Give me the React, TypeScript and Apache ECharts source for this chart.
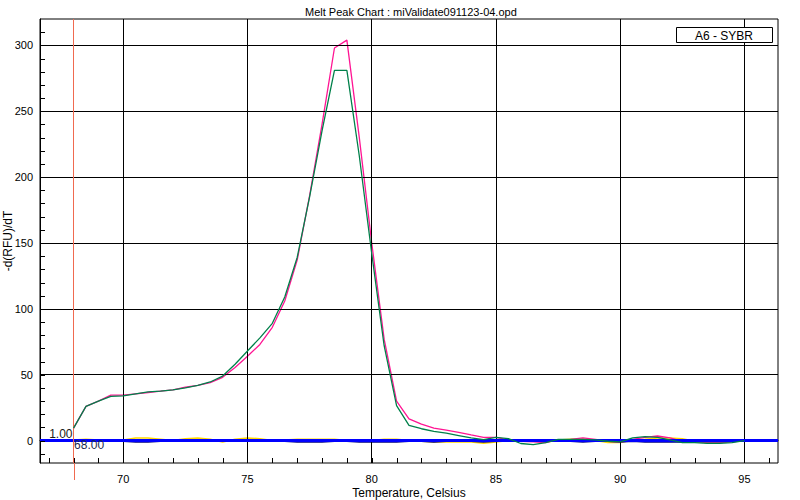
import React, { useEffect, useRef } from "react";
import * as echarts from "echarts";

const TITLE = "Melt Peak Chart : miValidate091123-04.opd";
const X_NAME = "Temperature, Celsius";
const Y_NAME = "-d(RFU)/dT";
const LEGEND_LABEL = "A6 - SYBR";

const temps = [
  68, 68.5, 69, 69.5, 70, 70.5, 71, 71.5, 72, 72.5, 73, 73.5, 74, 74.5, 75, 75.5,
  76, 76.5, 77, 77.5, 78, 78.5, 79, 79.5, 80, 80.5, 81, 81.5, 82, 82.5, 83, 83.5,
  84, 84.5, 85, 85.5, 86, 86.5, 87, 87.5, 88, 88.5, 89, 89.5, 90, 90.5, 91, 91.5,
  92, 92.5, 93, 93.5, 94, 94.5, 95,
];

const pinkValues = [
  9.5, 26, 30, 34.5, 34.5, 35.5, 36.5, 37.5, 38.5, 40.5, 42, 44, 48, 55.5, 64, 73,
  86, 106, 137, 186, 240, 298, 304, 230, 150, 77, 30, 16.5, 12.5, 9.5, 8, 6.3,
  4.3, 2.5, 2.5, 0.5, -0.5, -1, -1.5, 0.5, 1, 2, 1, -0.5, -1, 1, 2.5, 3.5,
  2, -0.5, -1, -1.5, -1.5, -1, 0,
];

const greenValues = [
  9.5, 26, 30, 33.5, 34, 35.5, 37, 37.5, 38.5, 40, 42, 44.5, 49, 58, 68, 78,
  89, 109, 139, 185, 235, 281, 281, 216, 142, 72, 26.5, 11.5, 9, 7, 5.6, 3.8,
  2, 0.8, 2.5, 1.5, -2.2, -3, -1.5, 1, 1, 1, 0.5, -0.5, -1, 2, 3, 2.5,
  0.5, -1.5, -1.5, -2, -2, -1.5, 0,
];

const yellowValues = [
  0.5, 1, 0.5, 0, 0.5, 2, 2, 1, 0, 1.5, 2, 1, -1, 1, 2, 1.5,
  0, 0.5, 1, 1, 1, 1, 0, -0.5, 0, 1, 1, 0, -0.5, -1, -1, -1,
  -1, -2, -1, 0, 0.5, 0, 0, 0.5, 1, 1, 0, -1.5, -1.5, 0.5, 1, 2,
  2, 1.5, -0.5, -1, -1, -0.5, 0,
];

const navyValues = [
  0, -0.5, -0.5, -0.5, -0.5, -1, -1, -0.5, -0.5, -0.5, -0.5, -0.5, -0.5, -0.5, -0.5, -0.5,
  -0.5, -0.5, -1, -1, -1, -0.5, -0.5, -1, -1, -1, -1, -0.5, -0.5, -1, -0.5, -0.5,
  -0.5, -1, -0.5, -0.5, -0.5, -0.5, -0.5, -0.5, -0.5, -1, -0.5, -0.5, -1, -0.5, -1, -1,
  -1, -1, -0.5, -0.5, -0.5, -0.5, 0,
];

const xMajorTicks = [70, 75, 80, 85, 90, 95];
const xMinorTicks = [
  67, 68, 69, 70, 71, 72, 73, 74, 75, 76, 77, 78, 79, 80, 81, 82, 83, 84, 85, 86,
  87, 88, 89, 90, 91, 92, 93, 94, 95, 96,
];
const yMajorTicks = [0, 50, 100, 150, 200, 250, 300];
const yMinorTicks = [
  -10, 0, 10, 20, 30, 40, 50, 60, 70, 80, 90, 100, 110, 120, 130, 140, 150, 160,
  170, 180, 190, 200, 210, 220, 230, 240, 250, 260, 270, 280, 290, 300, 310,
];

const X_MIN = 66.65;
const X_MAX = 96.35;
const Y_MIN = -17;
const Y_MAX = 320;

const CURSOR_TEMP = 68;
const CURSOR_VALUE_LABEL = "1.00";
const CURSOR_TEMP_LABEL = "68.00";

const FONT = "'Liberation Sans', Arial, sans-serif";
const TICK_LEN = 5;

export default function App() {
  const ref = useRef<HTMLDivElement>(null);

  useEffect(() => {
    if (!ref.current) return;
    const chart = echarts.init(ref.current, null, { renderer: "svg" });
    const pair = (vals: number[]) => temps.map((t, i) => [t, vals[i]]);
    const crisp = (v: number) => Math.round(v) + 0.5;

    const option: any = {
      animation: false,
      backgroundColor: "#ffffff",
      textStyle: { fontFamily: FONT },
      title: {
        text: TITLE,
        left: 300,
        top: 1,
        textStyle: { fontSize: 11, fontWeight: "normal", color: "#000", fontFamily: FONT },
      },
      grid: {
        left: 40,
        right: 22,
        top: 19,
        bottom: 37,
        containLabel: false,
        outerBoundsMode: "none",
        show: true,
        borderColor: "#000",
        borderWidth: 1,
        backgroundColor: "transparent",
      },
      xAxis: {
        type: "value",
        min: X_MIN,
        max: X_MAX,
        name: X_NAME,
        nameLocation: "middle",
        nameGap: 24,
        nameMoveOverlap: false,
        nameTextStyle: { fontSize: 12, color: "#000", fontFamily: FONT },
        axisLine: { show: true, lineStyle: { color: "#000", width: 1 } },
        axisTick: { show: false },
        axisLabel: {
          customValues: xMajorTicks,
          fontSize: 11,
          color: "#000",
          margin: 10,
          fontFamily: FONT,
        },
        splitLine: { show: false },
      },
      yAxis: {
        type: "value",
        min: Y_MIN,
        max: Y_MAX,
        name: Y_NAME,
        nameLocation: "middle",
        nameGap: 26,
        nameMoveOverlap: false,
        nameTextStyle: { fontSize: 12, color: "#000", fontFamily: FONT },
        axisLine: { show: true, lineStyle: { color: "#000", width: 1 } },
        axisTick: { show: false },
        axisLabel: {
          customValues: yMajorTicks,
          fontSize: 11,
          color: "#000",
          margin: 7,
          fontFamily: FONT,
        },
        splitLine: { show: false },
      },
      series: [
        {
          name: "gridlines",
          type: "line",
          data: [],
          silent: true,
          z: 1,
          markLine: {
            silent: true,
            symbol: "none",
            label: { show: false },
            emphasis: { disabled: true },
            lineStyle: { color: "#000", width: 1, type: "solid" },
            data: [
              ...xMajorTicks.map((v) => ({ xAxis: v })),
              ...yMajorTicks.filter((v) => v !== 0).map((v) => ({ yAxis: v })),
            ],
          },
        },
        {
          name: "yellow",
          type: "line",
          data: pair(yellowValues),
          showSymbol: false,
          silent: true,
          z: 2,
          lineStyle: { color: "#ffd700", width: 1.5 },
        },
        {
          name: "navy",
          type: "line",
          data: pair(navyValues),
          showSymbol: false,
          silent: true,
          z: 2,
          lineStyle: { color: "#000080", width: 1.5 },
        },
        {
          name: "baseline",
          type: "line",
          data: [],
          silent: true,
          z: 3,
          markLine: {
            silent: true,
            symbol: "none",
            label: { show: false },
            emphasis: { disabled: true },
            data: [
              { yAxis: 0, lineStyle: { color: "#0000ff", width: 3, type: "solid" } },
              { xAxis: CURSOR_TEMP, lineStyle: { color: "#f06a50", width: 1, type: "solid" } },
            ],
          },
        },
        {
          name: "pink",
          type: "line",
          data: pair(pinkValues),
          showSymbol: false,
          silent: true,
          z: 4,
          lineStyle: { color: "#ff1493", width: 1.3 },
        },
        {
          name: "green",
          type: "line",
          data: pair(greenValues),
          showSymbol: false,
          silent: true,
          z: 5,
          lineStyle: { color: "#00804a", width: 1.3 },
        },
      ],
    };

    chart.setOption(option);

    const toPx = (x: number, y: number) =>
      chart.convertToPixel({ gridIndex: 0 } as any, [x, y]) as number[];

    const p0 = toPx(CURSOR_TEMP, 0);
    const pb = toPx(CURSOR_TEMP, Y_MIN);
    const cx = crisp(p0[0]);

    const graphics: any[] = [];
    xMinorTicks.forEach((v, i) => {
      const p = toPx(v, Y_MIN);
      const x = crisp(p[0]);
      graphics.push({
        type: "line",
        id: "xt" + i,
        silent: true,
        z: 50,
        shape: { x1: x, y1: p[1], x2: x, y2: p[1] - TICK_LEN },
        style: { stroke: "#000", lineWidth: 1 },
      });
    });
    yMinorTicks.forEach((v, i) => {
      const p = toPx(X_MIN, v);
      const y = crisp(p[1]);
      graphics.push({
        type: "line",
        id: "yt" + i,
        silent: true,
        z: 50,
        shape: { x1: p[0], y1: y, x2: p[0] + TICK_LEN, y2: y },
        style: { stroke: "#000", lineWidth: 1 },
      });
    });

    graphics.push(
      {
        type: "line",
        id: "cursorExt",
        silent: true,
        z: 10,
        shape: { x1: cx, y1: pb[1], x2: cx, y2: pb[1] + 17 },
        style: { stroke: "#f06a50", lineWidth: 1 },
      },
      {
        type: "text",
        id: "cursorValue",
        silent: true,
        z: 10,
        x: p0[0] - 1,
        y: p0[1] - 7,
        style: {
          text: CURSOR_VALUE_LABEL,
          align: "right",
          verticalAlign: "middle",
          fontSize: 12,
          fontFamily: FONT,
          fill: "#1a1a1a",
        },
      },
      {
        type: "text",
        id: "cursorTemp",
        silent: true,
        z: 10,
        x: p0[0] + 0.5,
        y: p0[1] + 4,
        style: {
          text: CURSOR_TEMP_LABEL,
          align: "left",
          verticalAlign: "middle",
          fontSize: 12,
          fontFamily: FONT,
          fill: "#1a2a50",
        },
      },
      {
        type: "rect",
        id: "legendBox",
        z: 20,
        silent: true,
        shape: { x: 676.5, y: 27.5, width: 96, height: 15 },
        style: { fill: "#fff", stroke: "#000", lineWidth: 1 },
      },
      {
        type: "text",
        id: "legendText",
        z: 21,
        silent: true,
        x: 724,
        y: 35.5,
        style: {
          text: LEGEND_LABEL,
          align: "center",
          verticalAlign: "middle",
          fontSize: 12,
          fontFamily: FONT,
          fill: "#000",
        },
      }
    );

    chart.setOption({ graphic: graphics });

    return () => {
      chart.dispose();
    };
  }, []);

  return (
    <div
      ref={ref}
      style={{ position: "fixed", left: 0, top: 0, width: 800, height: 500, background: "#fff" }}
    />
  );
}
